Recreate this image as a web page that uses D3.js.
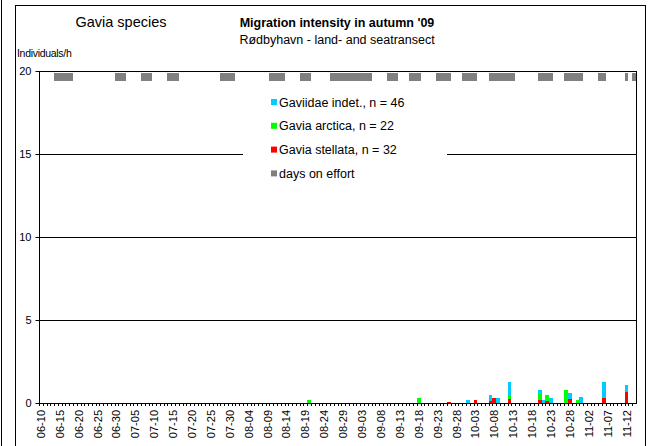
<!DOCTYPE html>
<html>
<head>
<meta charset="utf-8">
<title>Gavia species</title>
<script src="https://d3js.org/d3.v7.min.js"></script>
<style>
    body{ margin:0; background:#fff; font-family:"Liberation Sans", Arial, sans-serif; }
    svg text{ font-family:"Liberation Sans", Arial, sans-serif; }
</style>
</head>
<body>
<svg width="658" height="446"></svg>
<script>
// observation days (only days with birds)
var obsDays   = ["08-20","09-18","09-26","10-01","10-03","10-07","10-08","10-09","10-12","10-20","10-21","10-22","10-23","10-27","10-28","10-30","10-31","11-06","11-12"];
var stellata  = [0,    0,    0.06, 0,    0.16, 0.12, 0.30, 0,    0.24, 0.18, 0,    0.12, 0,    0,    0.24, 0,    0,    0.30, 0.66];
var arctica   = [0.18, 0.30, 0,    0,    0,    0,    0,    0,    0.18, 0.36, 0,    0.36, 0,    0.78, 0,    0.18, 0,    0,    0   ];
var indet     = [0,    0,    0,    0.16, 0,    0.36, 0,    0.30, 0.82, 0.24, 0.18, 0,    0.30, 0,    0.36, 0,    0.36, 0.96, 0.42];

var effortDays = ["06-14","06-15","06-16","06-17","06-18","06-30","07-01","07-02","07-07","07-08","07-09",
    "07-14","07-15","07-16","07-28","07-29","07-30","07-31","08-10","08-11","08-12","08-13","08-18","08-19","08-20",
    "08-26","08-27","08-28","08-29","08-30","08-31","09-01","09-02","09-03","09-04","09-05","09-10","09-11","09-12",
    "09-16","09-17","09-18","09-23","09-24","09-25","09-26","09-30","10-01","10-02","10-03",
    "10-07","10-08","10-09","10-10","10-11","10-12","10-13","10-20","10-21","10-22","10-23",
    "10-27","10-28","10-29","10-30","10-31","11-05","11-06","11-12","11-14"];
var effortBand = [19.42, 19.9];

var yTicks = [0, 5, 10, 15, 20];
var legendItems = [
    {label:"Gaviidae indet., n = 46", color:"#00ccff"},
    {label:"Gavia arctica, n = 22", color:"#00ff00"},
    {label:"Gavia stellata, n = 32", color:"#ff0000"},
    {label:"days on effort", color:"#808080"}
];

var fmt = d3.timeFormat("%m-%d");
var allDays = d3.timeDay.range(new Date(2009,5,10), new Date(2009,10,15)).map(fmt);

var svg = d3.select("svg");
var pLeft = 39, pRight = 636, pTop = 71, pBottom = 403;

var x = d3.scaleBand().domain(allDays).range([pLeft, pRight]).padding(0);
var y = d3.scaleLinear().domain([0, 20]).range([pBottom, pTop]);

// frames
svg.append("line").attr("x1",1.5).attr("x2",1.5).attr("y1",0).attr("y2",446).attr("stroke","#000");
svg.append("rect").attr("x",15.5).attr("y",5.5).attr("width",630).attr("height",460)
    .attr("fill","none").attr("stroke","#000");

// gridlines
svg.selectAll(".grid").data(yTicks.filter(function(d){return d>0;})).enter().append("line")
    .attr("x1",pLeft).attr("x2",pRight)
    .attr("y1",function(d){return Math.round(y(d))+0.5;})
    .attr("y2",function(d){return Math.round(y(d))+0.5;})
    .attr("stroke","#000");
svg.append("line").attr("x1",pRight+0.5).attr("x2",pRight+0.5).attr("y1",pTop).attr("y2",pBottom)
    .attr("stroke","#000");

// effort bars
svg.selectAll(".effort").data(effortDays).enter().append("rect")
    .attr("x",function(d){return x(d);})
    .attr("width",x.bandwidth())
    .attr("y",y(effortBand[1]))
    .attr("height",y(effortBand[0]) - y(effortBand[1]))
    .attr("fill","#808080")
    .attr("shape-rendering","crispEdges");

// stacked data bars
var rows = obsDays.map(function(d,i){return {day:d, stellata:stellata[i], arctica:arctica[i], indet:indet[i]};});
var stack = d3.stack().keys(["stellata","arctica","indet"])(rows);
var colors = {stellata:"#ff0000", arctica:"#00ff00", indet:"#00ccff"};
svg.selectAll(".series").data(stack).enter().append("g")
    .attr("fill",function(s){return colors[s.key];})
    .selectAll("rect").data(function(s){return s;}).enter().append("rect")
    .attr("x",function(d){return x(d.data.day);})
    .attr("width",x.bandwidth())
    .attr("y",function(d){return y(d[1]);})
    .attr("height",function(d){return y(d[0]) - y(d[1]);})
    .attr("shape-rendering","crispEdges");

// legend
var lg = svg.append("g");
lg.append("rect").attr("x",243).attr("y",88).attr("width",204).attr("height",97).attr("fill","#fff");
var li = lg.selectAll(".li").data(legendItems).enter().append("g")
    .attr("transform",function(d,i){return "translate(271," + (102 + i*23.8) + ")";});
li.append("rect").attr("x",0).attr("y",-3).attr("width",6).attr("height",6)
    .attr("fill",function(d){return d.color;});
li.append("text").attr("x",8).attr("y",4.5).attr("font-size",12.5).text(function(d){return d.label;});

// y axis
var yAxis = d3.axisLeft(y).tickValues(yTicks).tickSize(4).tickPadding(4);
var ya = svg.append("g").attr("transform","translate(" + (pLeft+0.5) + ",0)").call(yAxis);
ya.select(".domain").attr("d","M0," + pTop + "V" + pBottom);
ya.selectAll("text").attr("font-size",11).attr("fill","#000");

// x axis
svg.append("line").attr("x1",pLeft).attr("x2",pRight+1).attr("y1",pBottom+0.5).attr("y2",pBottom+0.5).attr("stroke","#000");
svg.selectAll(".xt").data(allDays).enter().append("line")
    .attr("x1",function(d){return Math.round(x(d))+0.5;})
    .attr("x2",function(d){return Math.round(x(d))+0.5;})
    .attr("y1",pBottom).attr("y2",pBottom+3).attr("stroke","#000");
svg.selectAll(".xl").data(allDays.filter(function(d,i){return i%5===0;})).enter().append("text")
    .attr("transform",function(d){return "translate(" + (x(d)+x.bandwidth()/2+4) + "," + (pBottom+7) + ") rotate(-90)";})
    .attr("text-anchor","end").attr("font-size",11).text(function(d){return d;});

// titles
svg.append("text").attr("x",121).attr("y",27).attr("text-anchor","middle").attr("font-size",14.5).text("Gavia species");
svg.append("text").attr("x",337).attr("y",27).attr("text-anchor","middle").attr("font-size",12.5)
    .attr("font-weight","bold").text("Migration intensity in autumn '09");
svg.append("text").attr("x",337).attr("y",44).attr("text-anchor","middle").attr("font-size",12.5)
    .text("Rødbyhavn - land- and seatransect");
svg.append("text").attr("x",17).attr("y",57).attr("font-size",10.5).attr("letter-spacing","-0.3").text("Individuals/h");
</script>
</body>
</html>
